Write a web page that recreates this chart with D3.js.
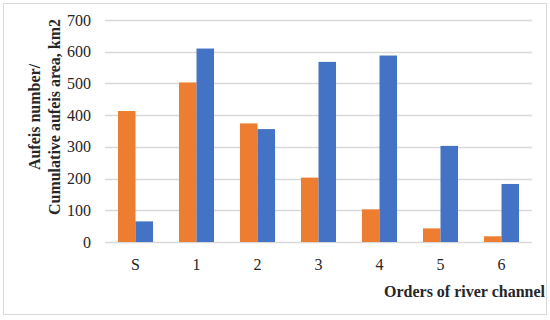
<!DOCTYPE html>
<html>
<head>
<meta charset="utf-8">
<script src="https://cdn.jsdelivr.net/npm/d3@7"></script>
<style>
  body { margin: 0; background: #fff; }
  svg text { font-family: "Liberation Serif", serif; }
</style>
</head>
<body>
<svg id="canvas"></svg>
<script>
let categories = ["S", "1", "2", "3", "4", "5", "6"];
let aufeisNumber = [413, 503, 374, 203, 103, 43, 18];
let aufeisArea = [65, 610, 356, 568, 588, 303, 183];
let yTicks = [0, 100, 200, 300, 400, 500, 600, 700];

let width = 550;
let height = 320;

let plotLeft = 105;
let plotRight = 532;
let plotTop = 20;
let plotBottom = 242;

let canvas = d3.select("#canvas").attr("width", width).attr("height", height);

// frame
canvas.append("rect")
  .attr("x", 3.5).attr("y", 3.5)
  .attr("width", 543).attr("height", 311)
  .attr("fill", "#fff")
  .attr("stroke", "#d9d9d9");

let xScale = d3.scaleBand()
  .domain(categories)
  .range([plotLeft, plotRight]);

let inner = d3.scaleBand()
  .domain(["n", "a"])
  .range([0, xScale.bandwidth()])
  .paddingOuter(0.74);

let yScale = d3.scaleLinear()
  .domain([0, 700])
  .range([plotBottom, plotTop]);

// gridlines
canvas.append("g")
  .selectAll("line")
  .data(yTicks)
  .enter()
  .append("line")
  .attr("x1", plotLeft)
  .attr("x2", plotRight)
  .attr("y1", (d) => Math.round(yScale(d)) + 0.5)
  .attr("y2", (d) => Math.round(yScale(d)) + 0.5)
  .attr("stroke", "#d9d9d9")
  .attr("stroke-width", 1.3);

let rows = categories.map((c, i) => {
  return { cat: c, n: aufeisNumber[i], a: aufeisArea[i] };
});

let groups = canvas.append("g")
  .selectAll("g")
  .data(rows)
  .enter()
  .append("g")
  .attr("transform", (d) => "translate(" + xScale(d.cat) + ",0)");

groups.append("rect")
  .attr("x", inner("n"))
  .attr("width", inner.bandwidth())
  .attr("y", (d) => yScale(d.n))
  .attr("height", (d) => plotBottom - yScale(d.n))
  .attr("fill", "#ED7D31");

groups.append("rect")
  .attr("x", inner("a"))
  .attr("width", inner.bandwidth())
  .attr("y", (d) => yScale(d.a))
  .attr("height", (d) => plotBottom - yScale(d.a))
  .attr("fill", "#4472C4");

// y axis labels
let yAxis = d3.axisLeft(yScale).tickValues(yTicks).tickSize(0).tickPadding(14);
let yg = canvas.append("g")
  .attr("transform", "translate(" + plotLeft + ",0)")
  .call(yAxis);
yg.select(".domain").remove();
yg.selectAll("text")
  .style("font-family", "'Liberation Serif', serif")
  .style("font-size", "16px")
  .attr("fill", "#262626");

// x axis labels
let xAxis = d3.axisBottom(xScale).tickSize(0).tickPadding(17);
let xg = canvas.append("g")
  .attr("transform", "translate(0," + plotBottom + ")")
  .call(xAxis);
xg.select(".domain").remove();
xg.selectAll("text")
  .style("font-family", "'Liberation Serif', serif")
  .style("font-size", "16px")
  .attr("fill", "#262626");

// titles
let yTitle = canvas.append("text")
  .attr("transform", "translate(34,117) rotate(-90)")
  .attr("text-anchor", "middle")
  .attr("font-weight", "bold")
  .attr("font-size", "16px")
  .attr("fill", "#262626");
yTitle.append("tspan").attr("x", 0).attr("dy", "0.35em").text("Aufeis number/");
yTitle.append("tspan").attr("x", 0).attr("dy", "20").text("Cumulative  aufeis area, km2");

canvas.append("text")
  .attr("x", 545)
  .attr("y", 297)
  .attr("text-anchor", "end")
  .attr("font-weight", "bold")
  .attr("font-size", "16px")
  .attr("fill", "#262626")
  .text("Orders of river channel");
</script>
</body>
</html>
